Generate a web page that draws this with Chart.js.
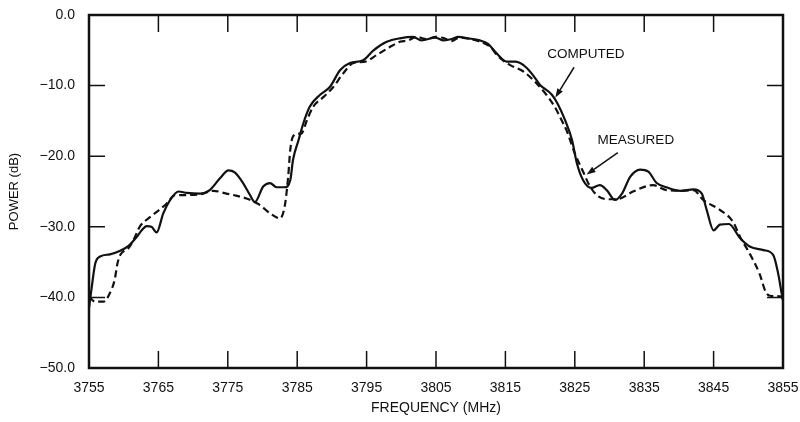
<!DOCTYPE html>
<html>
<head>
<meta charset="utf-8">
<script src="https://cdn.jsdelivr.net/npm/chart.js@4/dist/chart.umd.min.js"></script>
<style>
  html, body { margin: 0; padding: 0; background: #fff; }
  #wrap { width: 800px; height: 422px; }
</style>
</head>
<body>
<div id="wrap"><canvas id="chart" width="800" height="422"></canvas></div>
<script>
// frequency (MHz) / power (dB) pairs, solid = computed, dashed = measured
const freqComputed = [
  3755.0, 3755.4, 3755.9, 3756.6, 3758.0, 3759.5, 3760.7, 3761.9, 3762.6, 3763.3,
  3764.0, 3764.75, 3765.7, 3766.7, 3767.9, 3769.1, 3771.0, 3772.4, 3773.9, 3775.1,
  3776.0, 3777.2, 3778.2, 3778.9, 3780.1, 3781.1, 3782.0, 3783.2, 3784.0, 3784.4,
  3785.2, 3785.9, 3786.8, 3788.3, 3789.7, 3791.2, 3792.6, 3794.5, 3796.0, 3797.9,
  3799.8, 3801.7, 3802.9, 3804.9, 3806.1, 3807.3, 3808.2, 3809.6, 3811.3, 3812.5,
  3813.7, 3815.2, 3816.4, 3817.6, 3818.8, 3820.0, 3821.7, 3822.6, 3823.6, 3824.6,
  3825.3, 3826.2, 3827.4, 3828.6, 3829.6, 3830.8, 3831.8, 3833.0, 3834.4, 3835.6,
  3836.8, 3838.2, 3840.2, 3842.1, 3843.3, 3844.0, 3845.0, 3845.9, 3847.2, 3848.8,
  3850.2, 3852.2, 3853.6, 3854.3, 3854.8, 3855.0
];
const powerComputed = [
  -41.5, -38.5, -35.2, -34.2, -33.9, -33.4, -32.7, -31.4, -30.5, -29.9,
  -30.0, -30.8, -28.1, -26.2, -25.0, -25.2, -25.3, -24.8, -23.1, -22.0,
  -22.3, -23.8, -25.5, -26.5, -24.3, -23.8, -24.4, -24.4, -23.4, -20.5,
  -17.7, -15.3, -13.0, -11.3, -10.2, -7.8, -6.8, -6.4, -5.0, -3.8,
  -3.3, -3.1, -3.6, -3.2, -3.6, -3.4, -3.1, -3.3, -3.6, -4.1,
  -5.4, -6.6, -6.6, -7.1, -8.3, -9.9, -11.3, -12.7, -14.9, -17.7,
  -21.0, -23.4, -24.5, -24.1, -24.8, -26.2, -25.3, -22.9, -21.9, -22.2,
  -23.8, -24.4, -24.9, -24.7, -25.3, -27.6, -30.5, -29.7, -29.6, -31.6,
  -32.8, -33.3, -34.0, -36.6, -39.4, -40.4
];
const freqMeasured = [
  3755.0, 3755.9, 3757.1, 3758.0, 3758.7, 3759.1, 3759.5, 3760.7, 3761.4, 3762.3,
  3763.3, 3764.75, 3766.2, 3767.4, 3769.1, 3771.0, 3772.9, 3774.8, 3775.8, 3777.7,
  3779.6, 3781.1, 3782.5, 3783.2, 3783.7, 3784.0, 3784.4, 3785.2, 3785.6, 3786.4,
  3787.3, 3788.8, 3790.2, 3791.6, 3793.1, 3794.8, 3796.4, 3798.4, 3799.8, 3801.0,
  3802.2, 3803.6, 3805.0, 3806.2, 3807.2, 3808.4, 3809.4, 3810.8, 3812.8, 3814.0,
  3815.7, 3817.6, 3819.5, 3820.9, 3822.1, 3823.3, 3823.8, 3825.0, 3826.2, 3827.2,
  3828.4, 3830.1, 3831.5, 3833.4, 3836.3, 3838.2, 3840.6, 3842.1, 3843.5, 3845.9,
  3847.8, 3848.8, 3850.2, 3851.6, 3852.6, 3853.4, 3854.8, 3855.0
];
const powerMeasured = [
  -39.9, -40.6, -40.6, -39.4, -37.5, -35.2, -34.0, -33.0, -31.9, -30.0,
  -29.0, -27.9, -26.7, -25.5, -25.5, -25.4, -24.9, -25.3, -25.5, -26.0,
  -26.9, -28.1, -28.8, -27.1, -22.9, -19.1, -17.2, -16.8, -16.8, -14.9,
  -13.0, -11.6, -10.2, -8.3, -6.8, -6.6, -5.7, -4.5, -3.8, -3.6,
  -3.1, -3.4, -3.1, -3.3, -3.7, -3.2, -3.3, -3.6, -4.5, -5.9,
  -7.1, -8.0, -9.7, -11.3, -13.0, -15.3, -16.3, -19.6, -22.2, -24.3,
  -25.7, -26.1, -26.0, -25.0, -24.1, -24.8, -24.9, -24.8, -26.2, -27.6,
  -29.3, -31.4, -33.8, -36.6, -39.4, -39.8, -39.9, -40.4
];

const freqTicks  = [3755, 3765, 3775, 3785, 3795, 3805, 3815, 3825, 3835, 3845, 3855];
const powerTicks = [-50, -40, -30, -20, -10, 0];

// callouts: label position and arrow tail/head, all in data units
const callouts = [
  { text: 'COMPUTED', at: [3826.6, -5.6], tail: [3824.9, -7.4], head: [3822.2, -11.7] },
  { text: 'MEASURED', at: [3833.8, -17.7], tail: [3831.2, -19.5], head: [3826.7, -22.6] }
];

const FONT = '"Liberation Sans", Arial, Helvetica, sans-serif';
const INK = '#111';

function pairs(xs, ys) {
  return xs.map((x, i) => ({ x, y: ys[i] }));
}

function fmtPower(v) {
  return v.toFixed(1).replace('-', '\u2212');
}

const frame = {
  id: 'frame',
  afterDatasetsDraw(chart) {
    const { ctx, chartArea: a, scales: { x, y } } = chart;
    ctx.save();
    ctx.strokeStyle = INK;
    ctx.fillStyle = INK;

    // inward tick marks on all four sides
    ctx.lineWidth = 1.5;
    ctx.beginPath();
    freqTicks.forEach(v => {
      const px = x.getPixelForValue(v);
      ctx.moveTo(px, a.top); ctx.lineTo(px, a.top + 17);
      ctx.moveTo(px, a.bottom); ctx.lineTo(px, a.bottom - 17);
    });
    powerTicks.forEach(v => {
      const py = y.getPixelForValue(v);
      ctx.moveTo(a.left, py); ctx.lineTo(a.left + 16, py);
      ctx.moveTo(a.right, py); ctx.lineTo(a.right - 16, py);
    });
    ctx.stroke();

    ctx.lineWidth = 2.5;
    ctx.strokeRect(a.left, a.top, a.right - a.left, a.bottom - a.top);

    // callout labels with arrows
    ctx.font = '13.5px ' + FONT;
    ctx.textAlign = 'center';
    ctx.textBaseline = 'middle';
    callouts.forEach(c => {
      ctx.fillText(c.text, x.getPixelForValue(c.at[0]), y.getPixelForValue(c.at[1]));
      const x0 = x.getPixelForValue(c.tail[0]), y0 = y.getPixelForValue(c.tail[1]);
      const x1 = x.getPixelForValue(c.head[0]), y1 = y.getPixelForValue(c.head[1]);
      const ang = Math.atan2(y1 - y0, x1 - x0);
      const len = 9, half = 3.2;
      const bx = x1 - len * Math.cos(ang), by = y1 - len * Math.sin(ang);
      ctx.lineWidth = 1.5;
      ctx.beginPath();
      ctx.moveTo(x0, y0); ctx.lineTo(bx, by);
      ctx.stroke();
      ctx.beginPath();
      ctx.moveTo(x1, y1);
      ctx.lineTo(bx + half * Math.sin(ang), by - half * Math.cos(ang));
      ctx.lineTo(bx - half * Math.sin(ang), by + half * Math.cos(ang));
      ctx.closePath();
      ctx.fill();
    });
    ctx.restore();
  }
};

new Chart(document.getElementById('chart').getContext('2d'), {
  type: 'line',
  data: {
    datasets: [
      {
        label: 'Computed',
        data: pairs(freqComputed, powerComputed),
        borderColor: INK,
        borderWidth: 2.2,
        pointRadius: 0,
        fill: false,
        cubicInterpolationMode: 'monotone'
      },
      {
        label: 'Measured',
        data: pairs(freqMeasured, powerMeasured),
        borderColor: INK,
        borderWidth: 2.2,
        borderDash: [7, 4],
        pointRadius: 0,
        fill: false,
        cubicInterpolationMode: 'monotone'
      }
    ]
  },
  options: {
    responsive: false,
    animation: false,
    events: [],
    layout: { padding: { top: 15, right: 17, left: 0, bottom: 0 } },
    plugins: {
      legend: { display: false },
      tooltip: { enabled: false }
    },
    scales: {
      x: {
        type: 'linear',
        min: 3755,
        max: 3855,
        grid: { display: false, drawTicks: false },
        border: { display: false },
        afterBuildTicks(s) { s.ticks = freqTicks.map(v => ({ value: v })); },
        afterFit(s) { s.height = 54; s.paddingLeft = 0; s.paddingRight = 0; },
        ticks: {
          color: INK,
          padding: 12,
          maxRotation: 0,
          font: { family: FONT, size: 14 },
          callback: v => String(v)
        },
        title: {
          display: true,
          text: 'FREQUENCY (MHz)',
          color: INK,
          font: { family: FONT, size: 14 },
          padding: { top: 4, bottom: 5 }
        }
      },
      y: {
        min: -50,
        max: 0,
        grid: { display: false, drawTicks: false },
        border: { display: false },
        afterBuildTicks(s) { s.ticks = powerTicks.map(v => ({ value: v })); },
        afterFit(s) { s.width = 89; s.paddingTop = 0; s.paddingBottom = 0; },
        ticks: {
          color: INK,
          padding: 14,
          font: { family: FONT, size: 14 },
          callback: v => fmtPower(v)
        },
        title: {
          display: true,
          text: 'POWER (dB)',
          color: INK,
          font: { family: FONT, size: 13 },
          padding: { top: 7, bottom: 4 }
        }
      }
    }
  },
  plugins: [frame]
});
</script>
</body>
</html>
